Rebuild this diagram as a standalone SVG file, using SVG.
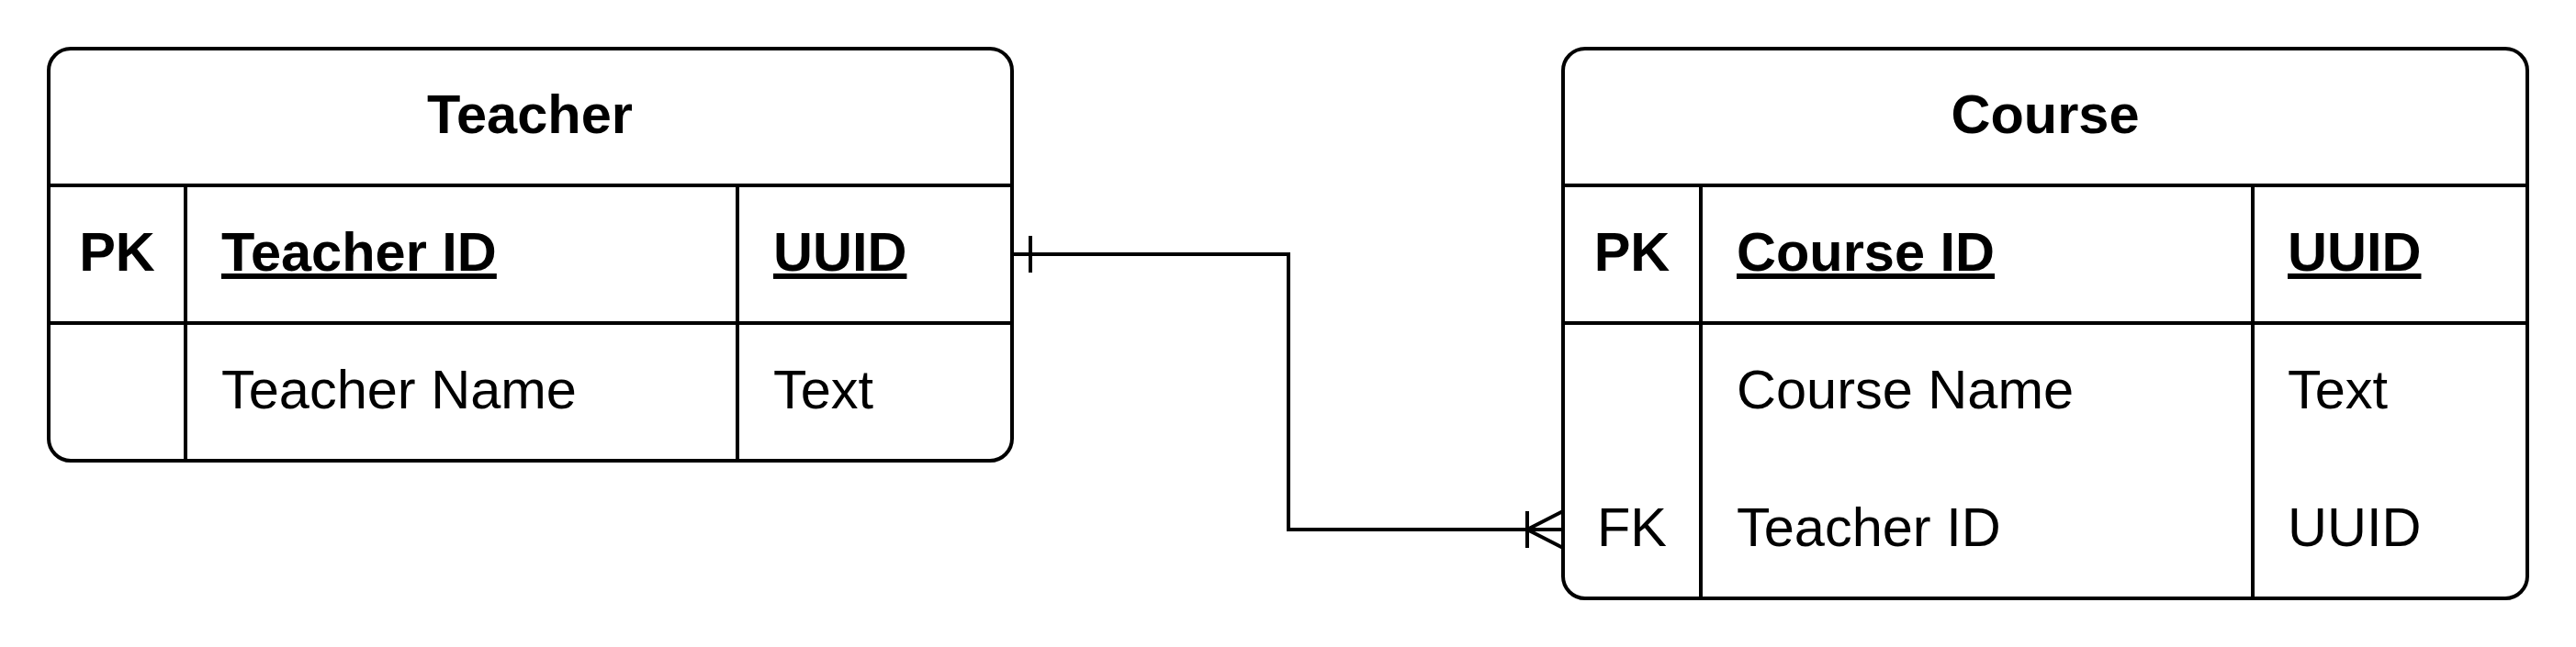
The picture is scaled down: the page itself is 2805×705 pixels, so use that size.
<svg xmlns="http://www.w3.org/2000/svg" width="2805" height="705" viewBox="0 0 2805 705">
<style>
.box{fill:#ffffff;stroke:#000000;stroke-width:4}
.ln{stroke:#000000;stroke-width:4;fill:none}
text{font-family:"Liberation Sans",Arial,sans-serif;font-size:59.5px;fill:#000000}
.b{font-weight:bold}
.c{text-anchor:middle}
.u{text-decoration:underline}
</style>
<rect width="2805" height="705" fill="#ffffff"/>
<g id="connectors">
<path class="ln" d="M1102 277 H1403 V577 H1702"/>
<path class="ln" d="M1122 257 V297"/>
<path class="ln" d="M1663 557 V597 M1702 557 L1663 577 L1702 597"/>
</g>
<g id="teacher">
<rect class="box" x="53" y="53" width="1049" height="449" rx="24" ry="24"/>
<path class="ln" d="M53 202 H1102 M53 352 H1102 M202 202 V502 M803 202 V502"/>
<text class="b c" x="577" y="145">Teacher</text>
<text class="b c" x="127.5" y="295">PK</text>
<text class="b u" x="241" y="295">Teacher ID</text>
<text class="b u" x="842" y="295">UUID</text>
<text x="241" y="445">Teacher Name</text>
<text x="842" y="445">Text</text>
</g>
<g id="course">
<rect class="box" x="1702" y="53" width="1050" height="599" rx="24" ry="24"/>
<path class="ln" d="M1702 202 H2752 M1702 352 H2752 M1852 202 V652 M2453 202 V652"/>
<text class="b c" x="2227" y="145">Course</text>
<text class="b c" x="1777" y="295">PK</text>
<text class="b u" x="1891" y="295">Course ID</text>
<text class="b u" x="2491" y="295">UUID</text>
<text x="1891" y="445">Course Name</text>
<text x="2491" y="445">Text</text>
<text class="c" x="1777" y="595">FK</text>
<text x="1891" y="595">Teacher ID</text>
<text x="2491" y="595">UUID</text>
</g>
</svg>
